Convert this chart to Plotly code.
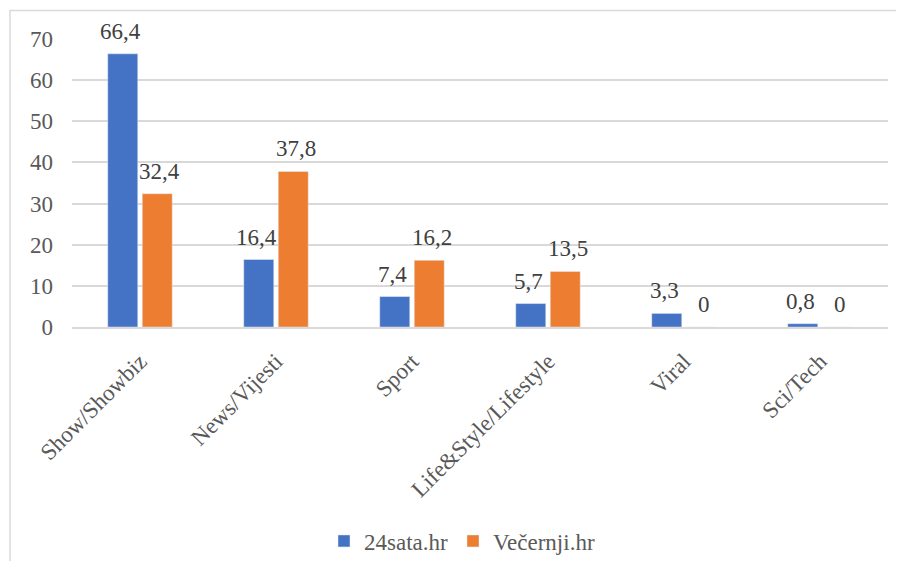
import plotly.graph_objects as go

# data
categories = ["Show/Showbiz", "News/Vijesti", "Sport", "Life&Style/Lifestyle", "Viral", "Sci/Tech"]
sata24 = [66.4, 16.4, 7.4, 5.7, 3.3, 0.8]
vecernji = [32.4, 37.8, 16.2, 13.5, 0, 0]
y_ticks = [0, 10, 20, 30, 40, 50, 60, 70]

# page has an 8px body margin, so the figure is shifted by that amount
W, H = 888, 553
L, R, T, B = 64, 8, 31, 234
pw, ph = W - L - R, H - T - B

FONT = "Liberation Serif"
GRID = "#d9d9d9"

fig = go.Figure()
fig.add_trace(go.Bar(x=categories, y=sata24, name="24sata.hr", marker_color="#4472C4"))
fig.add_trace(go.Bar(x=categories, y=vecernji, name="Večernji.hr", marker_color="#ED7D31"))

def fmt(v):
    return ("%g" % v).replace(".", ",")

# data labels
for vals, shift in ((sata24, -19.5), (vecernji, 19.5)):
    for c, v in zip(categories, vals):
        fig.add_annotation(x=c, y=v, text=fmt(v), showarrow=False, xshift=shift,
                           yanchor="bottom", yshift=8,
                           font=dict(family=FONT, size=23, color="#404040"))

# chart border (top and left visible)
fig.add_shape(type="rect", xref="paper", yref="paper",
              x0=(2 - L) / pw, x1=(W + 20 - L) / pw,
              y0=-(H + 20 - T - ph) / ph, y1=(ph + T - 2.5) / ph,
              line=dict(color=GRID, width=1.5), fillcolor="rgba(0,0,0,0)", layer="below")

fig.update_layout(
    width=W, height=H,
    margin=dict(l=L, r=R, t=T, b=B, autoexpand=False),
    paper_bgcolor="white", plot_bgcolor="white",
    barmode="group", bargap=0.493, bargroupgap=0.13,
    font=dict(family=FONT, size=23, color="#595959"),
    showlegend=True,
    legend=dict(orientation="h", x=(454 - L) / pw, xanchor="center",
                y=-(533 - T - ph) / ph, yanchor="middle",
                font=dict(family=FONT, size=23, color="#595959"),
                itemwidth=30, traceorder="normal"),
)
fig.update_xaxes(tickangle=-45, showline=True, linecolor=GRID, linewidth=1.5,
                 showgrid=False, ticks="", automargin=False, ticklabelstandoff=10,
                 tickfont=dict(family=FONT, size=23, color="#595959"))
fig.update_yaxes(range=[0, 70], tickvals=y_ticks, showgrid=True, gridcolor=GRID,
                 gridwidth=1.5, zeroline=False, ticks="", ticklabelstandoff=18,
                 automargin=False,
                 tickfont=dict(family=FONT, size=23, color="#595959"))

fig.write_html("out.html")
